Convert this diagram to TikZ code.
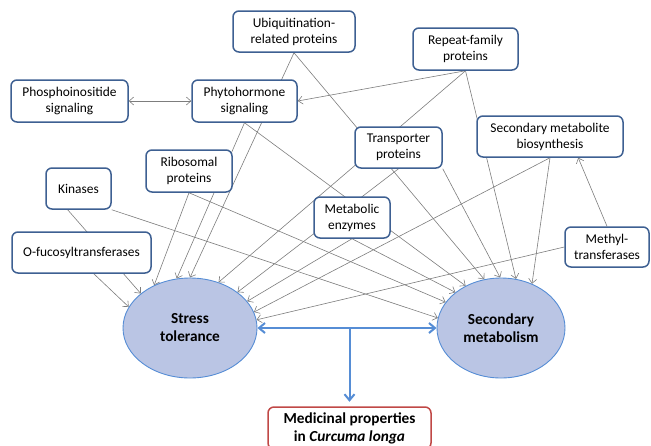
\documentclass[tikz,border=0pt]{standalone}
\usepackage{fontspec}
\setmainfont{Carlito}
\usetikzlibrary{arrows.meta,backgrounds,shapes.geometric}
\definecolor{rand}{RGB}{62,96,146}
\definecolor{rot}{RGB}{192,72,70}
\definecolor{kante}{RGB}{125,125,125}
\definecolor{blaulinie}{RGB}{86,141,213}
\definecolor{oval}{RGB}{186,197,228}
\tikzset{
  every picture/.style={line cap=round, line join=round},
  % Kästen
  box/.style={draw=rand, fill=white, line width=1.5pt, rounded corners=6pt, align=center,
    inner sep=2pt, font=\fontsize{13.4}{16}\selectfont},
  redbox/.style={box, draw=rot, font=\fontsize{15.3}{18}\selectfont\bfseries},
  target/.style={ellipse, draw=blaulinie, fill=oval, line width=0.9pt, align=center, inner sep=0pt,
    font=\fontsize{15.3}{18}\selectfont\bfseries},
  % Linien
  link/.style={kante, line width=0.6pt, >={Straight Barb[length=4.5pt,width=8pt]}, ->},
  bilink/.style={link, <->},
  flow/.style={blaulinie, line width=2pt, >={Straight Barb[length=6pt,width=10pt]}, ->},
}

\begin{document}
\begin{tikzpicture}[x=1pt, y=-1pt]
  \useasboundingbox (0,0) rectangle (651,445);
  \clip (0,0) rectangle (651,445);
  % Kästen
  \node[box, minimum width=122pt, minimum height=41pt] (ubiq) at (294,31.5) {Ubiquitination-\\related proteins};
  \node[box, minimum width=105pt, minimum height=42pt] (rep) at (465.5,49) {Repeat-family\\proteins};
  \node[box, minimum width=117pt, minimum height=42pt] (phos) at (69.5,101) {Phosphoinositide\\signaling};
  \node[box, minimum width=105pt, minimum height=42pt] (phyto) at (244.5,101) {Phytohormone\\signaling};
  \node[box, minimum width=87pt, minimum height=41pt] (trans) at (398.5,147.5) {Transporter\\proteins};
  \node[box, minimum width=146pt, minimum height=41pt] (smb) at (550,136.5) {Secondary metabolite\\biosynthesis};
  \node[box, minimum width=86pt, minimum height=42pt] (ribo) at (189,171) {Ribosomal\\proteins};
  \node[box, minimum width=65pt, minimum height=41pt] (kin) at (78.5,188.5) {Kinases};
  \node[box, minimum width=139pt, minimum height=41pt] (ofuc) at (81.5,252.5) {O-fucosyltransferases};
  \node[box, minimum width=76pt, minimum height=41pt] (metab) at (352,217.5) {Metabolic\\enzymes};
  \node[box, minimum width=84pt, minimum height=40pt] (methyl) at (607,247) {Methyl-\\transferases};
  % Ziele
  \node[target, minimum width=134pt, minimum height=100pt] (st) at (190,328) {Stress\\tolerance};
  \node[target, minimum width=128pt, minimum height=100pt] (sm) at (501,328) {Secondary\\metabolism};
  \node[redbox, minimum width=163pt, minimum height=42pt] (med) at (349.5,428) {Medicinal properties\\in \textit{Curcuma longa}};
  % Pfeile hinter den Kästen
  \begin{pgfonlayer}{background}
    % zu Stress tolerance
    \draw[link] (ofuc.-60) -- (st.161);
    \draw[link] (kin.-117) -- (st.145);
    \draw[link] (ribo.south) -- (st.130);
    \draw[link] (phyto.south) -- (st.105);
    \draw[link] (ubiq.south) -- (st.90);
    \draw[link] (rep.south) -- (st.58);
    \draw[link] (trans.south) -- (st.37);
    \draw[link] (metab.south) -- (st.25);
    \draw[link] (smb.south) -- (st.14);
    \draw[link] (methyl.west) -- (st.7);
    % zu Secondary metabolism
    \draw[link] (kin.south east) -- (sm.171);
    \draw[link] (ribo.south) -- (sm.155);
    \draw[link] (metab.south) -- (sm.142);
    \draw[link] (phyto.south) -- (sm.130);
    \draw[link] (ubiq.south) -- (sm.109);
    \draw[link] (trans.south east) -- (sm.91);
    \draw[link] (rep.south) -- (sm.73);
    \draw[link] (smb.south) -- (sm.55);
    % sonstige
    \draw[link] (rep.south) -- (phyto.east);
    \draw[link] (methyl.north) -- (smb.-37);
    \draw[bilink] (phos) -- (phyto);
  \end{pgfonlayer}
  % Wechselwirkung und Ergebnis
  \draw[flow, <->] (st) -- (sm);
  \coordinate (fork) at (st.east -| med.north);
  \draw[flow, shorten >=4.5pt] (fork) -- (med.north);
\end{tikzpicture}
\end{document}
